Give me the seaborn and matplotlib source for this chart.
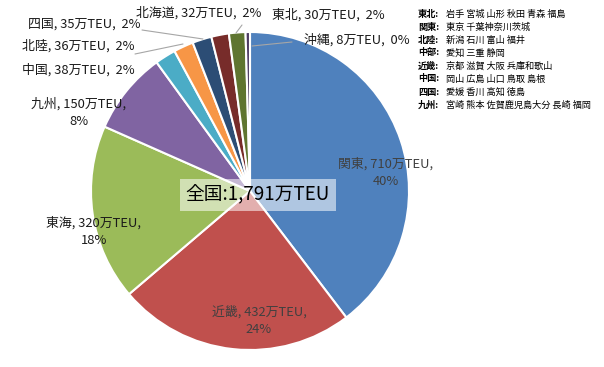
import matplotlib.pyplot as plt
import seaborn as sns
import numpy as np

sns.set_theme(style="white")
plt.rcParams['font.family'] = ['Noto Sans CJK JP', 'DejaVu Sans']

# data
regions = ['関東', '近畿', '東海', '九州', '中国', '北陸', '四国', '北海道', '東北', '沖縄']
teu = [710, 432, 320, 150, 38, 36, 35, 32, 30, 8]
pct = ['40%', '24%', '18%', '8%', '2%', '2%', '2%', '2%', '2%', '0%']
total_label = '全国:1,791万TEU'

legend_names = ['東北:', '関東:', '北陸:', '中部:', '近畿:', '中国:', '四国:', '九州:']
legend_prefs = ['岩手 宮城 山形 秋田 青森 福島', '東京 千葉神奈川茨城', '新潟 石川 富山 福井',
                '愛知 三重 静岡', '京都 滋賀 大阪 兵庫和歌山', '岡山 広島 山口 鳥取 島根',
                '愛媛 香川 高知 徳島', '宮崎 熊本 佐賀鹿児島大分 長崎 福岡']

colors = ['#4F81BD', '#C0504D', '#9BBB59', '#8064A2', '#4BACC6', '#F79646',
          '#2C4D75', '#772C2A', '#5F7530', '#4D3B62']

H = 367
fig = plt.figure(figsize=(6.04, 3.67), dpi=100)
ax = fig.add_axes([0, 0, 1, 1])

ax.pie(teu, colors=colors, startangle=90, counterclock=False,
       center=(250, H - 191), radius=159, frame=True,
       wedgeprops=dict(edgecolor='white', linewidth=1.5))
ax.set_xlim(0, 604)
ax.set_ylim(0, H)
ax.axis('off')

# label positions (pixel coords, top-left origin), inside label?
label_pos = {
    '関東': (386, 173, True), '近畿': (259, 321, True), '東海': (94, 232, True),
    '九州': (79, 113, True), '中国': (78, 70, False), '北陸': (78, 46, False),
    '四国': (84, 24, False), '北海道': (199, 13, False), '東北': (328, 15, False),
    '沖縄': (357, 40, False),
}
for name, v, p in zip(regions, teu, pct):
    x, y, two = label_pos[name]
    sep = ',\n' if two else ',  '
    col = '#404040' if name in ('関東', '近畿') else '#1a1a1a'
    ax.text(x, H - y, f'{name}, {v}万TEU{sep}{p}', ha='center', va='center',
            fontsize=9.3, color=col, linespacing=1.45)

# leader lines
leaders = [((135, 54), (183, 44)), ((142, 30), (203, 39)),
           ((242, 25), (236, 33)), ((252, 46), (292, 42))]
for (x0, y0), (x1, y1) in leaders:
    ax.plot([x0, x1], [H - y0, H - y1], color='#A6A6A6', lw=0.8)

ax.text(258, H - 195, total_label, ha='center', va='center', fontsize=13.5,
        color='black',
        bbox=dict(boxstyle='square,pad=0.3', facecolor='white', alpha=0.55, edgecolor='none'))

for i, (n, pr) in enumerate(zip(legend_names, legend_prefs)):
    y = H - (14 + i * 13)
    ax.text(418, y, n, ha='left', va='center', fontsize=6.6, fontweight='bold', color='black')
    ax.text(446, y, pr, ha='left', va='center', fontsize=6.6, color='black')

fig.savefig('out.png', dpi=100)
